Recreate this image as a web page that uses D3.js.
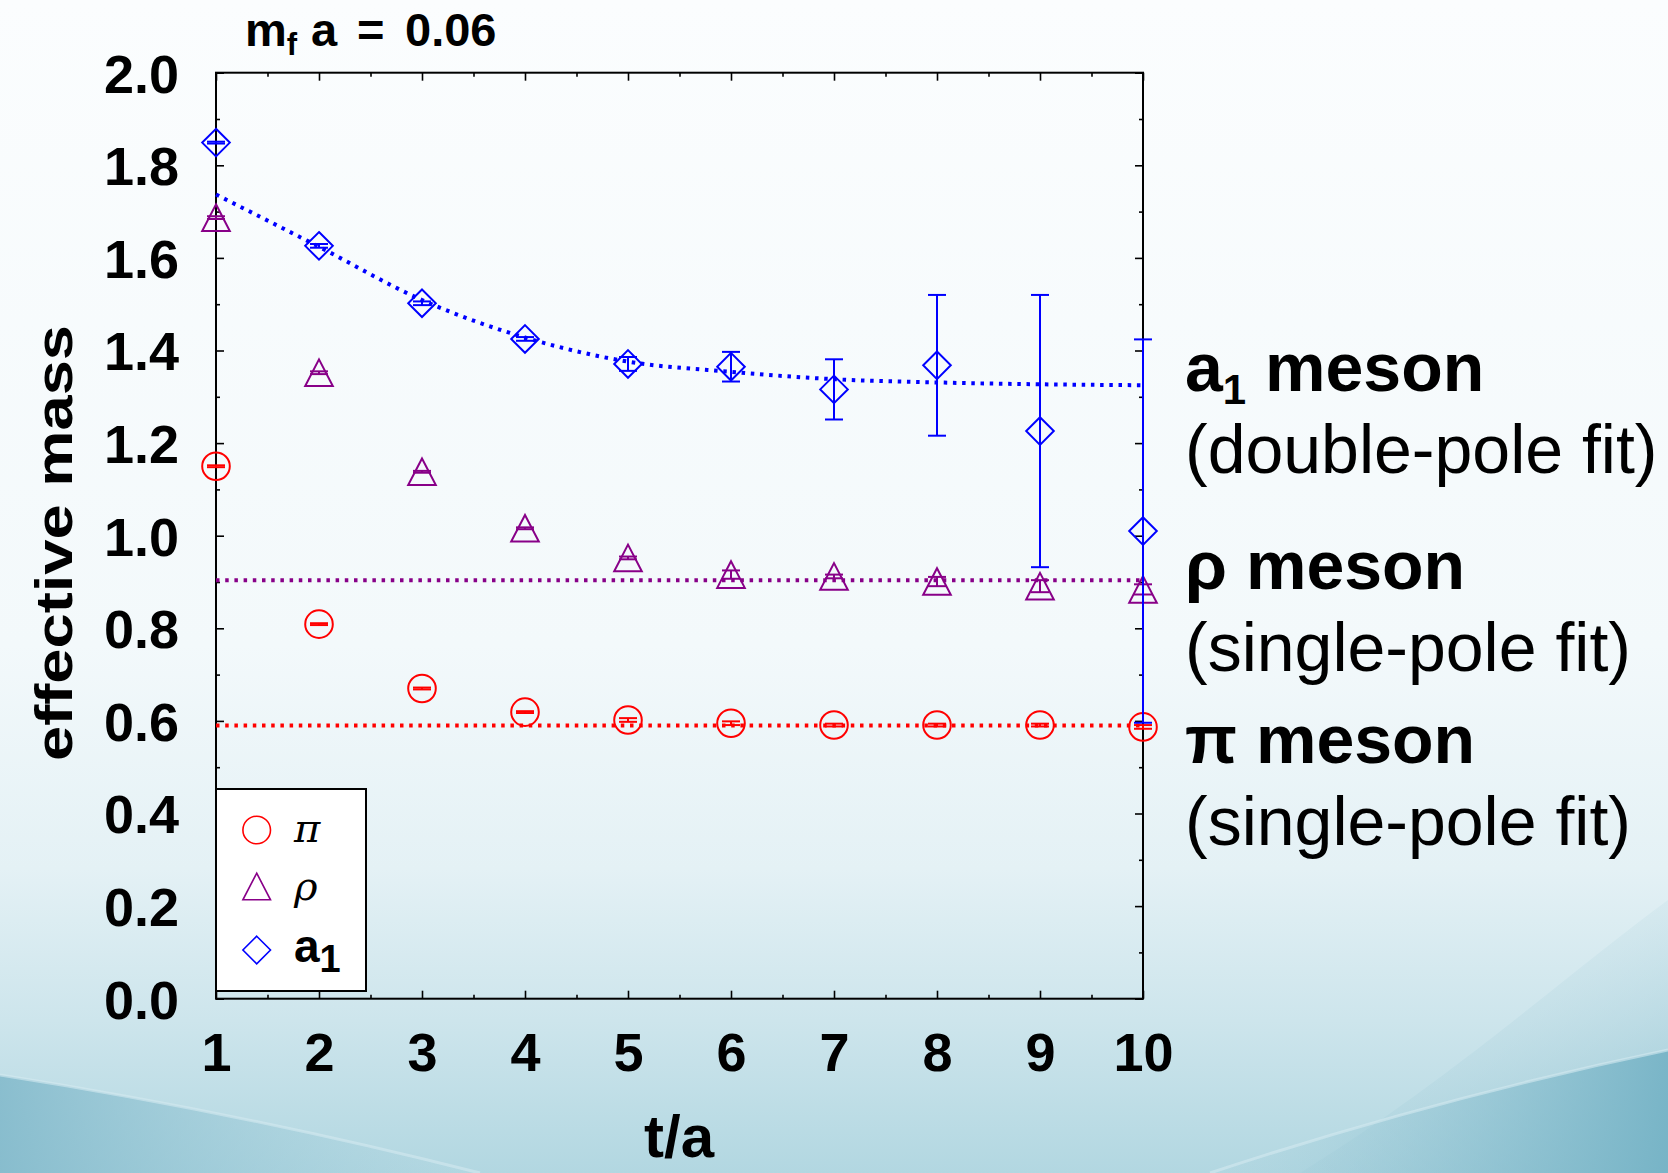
<!DOCTYPE html>
<html>
<head>
<meta charset="utf-8">
<script src="https://cdn.jsdelivr.net/npm/d3@7"></script>
<style>
  html, body { margin: 0; padding: 0; background: #f7fbfd; }
  svg { display: block; }
</style>
</head>
<body>
<div id="chart"></div>
<script>
// effective mass vs t/a, m_f a = 0.06
var tVals = [1, 2, 3, 4, 5, 6, 7, 8, 9, 10];

var piMass = [1.150, 0.809, 0.670, 0.619, 0.602, 0.595, 0.591, 0.591, 0.591, 0.587];
var piErr  = [0.002, 0.002, 0.002, 0.002, 0.004, 0.004, 0.003, 0.003, 0.003, 0.004];

var rhoMass = [1.687, 1.352, 1.138, 1.016, 0.952, 0.916, 0.912, 0.901, 0.891, 0.884];
var rhoErr  = [0.003, 0.003, 0.002, 0.002, 0.003, 0.009, 0.004, 0.010, 0.013, 0.011];

var a1Mass = [1.849, 1.626, 1.502, 1.425, 1.371, 1.365, 1.316, 1.368, 1.226, 1.010];
var a1Err  = [0.002, 0.004, 0.004, 0.004, 0.015, 0.032, 0.065, 0.152, 0.294, 0.414];

// fit results
var a1Fit = [1.737, 1.624, 1.509, 1.428, 1.376, 1.354, 1.338, 1.331, 1.327, 1.325];
var rhoFit = 0.904;
var piFit = 0.590;

var xTicks = [1, 2, 3, 4, 5, 6, 7, 8, 9, 10];
var xMinor = [1.5, 2.5, 3.5, 4.5, 5.5, 6.5, 7.5, 8.5, 9.5];
var yTicks = [0, 0.2, 0.4, 0.6, 0.8, 1.0, 1.2, 1.4, 1.6, 1.8, 2.0];
var yMinor = [0.1, 0.3, 0.5, 0.7, 0.9, 1.1, 1.3, 1.5, 1.7, 1.9];

var W = 1668, H = 1173;
var RED = "#ff0000", PURPLE = "#880088", BLUE = "#0000ff";

var svg = d3.select("#chart").append("svg")
  .attr("width", W)
  .attr("height", H);

// ---- background (slide style) ----
var defs = svg.append("defs");
var bg = defs.append("linearGradient").attr("id", "bg")
  .attr("x1", 0).attr("y1", 0).attr("x2", 0).attr("y2", 1);
[[0, "#fbfdfe"], [0.55, "#f3f9fb"], [0.74, "#e4f1f5"], [0.87, "#cde5ec"], [1, "#b2d7e1"]]
  .forEach(function(s) { bg.append("stop").attr("offset", s[0]).attr("stop-color", s[1]); });

var swL = defs.append("linearGradient").attr("id", "swL")
  .attr("x1", 0).attr("y1", 0).attr("x2", 1).attr("y2", 0);
swL.append("stop").attr("offset", 0).attr("stop-color", "#80b8ca").attr("stop-opacity", 0.85);
swL.append("stop").attr("offset", 1).attr("stop-color", "#9ccbd9").attr("stop-opacity", 0);

var swR = defs.append("linearGradient").attr("id", "swR")
  .attr("x1", 1).attr("y1", 0).attr("x2", 0).attr("y2", 0);
swR.append("stop").attr("offset", 0).attr("stop-color", "#74b2c5").attr("stop-opacity", 0.9);
swR.append("stop").attr("offset", 1).attr("stop-color", "#9ccbd9").attr("stop-opacity", 0);

var glowR = defs.append("linearGradient").attr("id", "glowR")
  .attr("x1", 1).attr("y1", 1).attr("x2", 0.3).attr("y2", 0);
glowR.append("stop").attr("offset", 0).attr("stop-color", "#7fb8c9").attr("stop-opacity", 0.6);
glowR.append("stop").attr("offset", 1).attr("stop-color", "#cfe6ed").attr("stop-opacity", 0);

svg.append("rect").attr("width", W).attr("height", H).attr("fill", "url(#bg)");
svg.append("path")
  .attr("d", "M1668,900 C1560,980 1450,1080 1300,1173 L1668,1173 Z")
  .attr("fill", "url(#glowR)");
svg.append("path")
  .attr("d", "M0,1075 C160,1100 330,1135 480,1173 L0,1173 Z")
  .attr("fill", "url(#swL)");
svg.append("path")
  .attr("d", "M1668,1050 C1500,1085 1340,1130 1210,1173 L1668,1173 Z")
  .attr("fill", "url(#swR)");
svg.append("path")
  .attr("d", "M0,1075 C160,1100 330,1135 480,1173")
  .attr("fill", "none").attr("stroke", "#d4eaf0").attr("stroke-opacity", 0.6).attr("stroke-width", 3);
svg.append("path")
  .attr("d", "M1668,1050 C1500,1085 1340,1130 1210,1173")
  .attr("fill", "none").attr("stroke", "#d4eaf0").attr("stroke-opacity", 0.6).attr("stroke-width", 3);

// ---- scales ----
var x = d3.scaleLinear().domain([1, 10]).range([216, 1143]);
var y = d3.scaleLinear().domain([0, 2]).range([998.7, 72.7]);

var tickFont = "'Liberation Sans', Arial, sans-serif";

// frame
svg.append("rect")
  .attr("x", x(1)).attr("y", y(2))
  .attr("width", x(10) - x(1)).attr("height", y(0) - y(2))
  .attr("fill", "none").attr("stroke", "#000").attr("stroke-width", 2);

function styleAxis(g) {
  g.select(".domain").remove();
  g.selectAll(".tick line").attr("stroke", "#000").attr("stroke-width", 1.6);
  g.selectAll(".tick text")
    .attr("fill", "#000")
    .style("font-family", tickFont)
    .style("font-weight", "bold")
    .style("font-size", "54px");
}

// bottom axis with labels
svg.append("g")
  .attr("transform", "translate(0," + y(0) + ")")
  .call(d3.axisBottom(x).tickValues(xTicks).tickFormat(d3.format("d"))
    .tickSizeInner(-8).tickSizeOuter(0).tickPadding(34))
  .call(styleAxis);
svg.append("g")
  .attr("transform", "translate(0," + y(0) + ")")
  .call(d3.axisBottom(x).tickValues(xMinor).tickFormat("").tickSizeInner(-4).tickSizeOuter(0))
  .call(styleAxis);
// top axis (ticks only)
svg.append("g")
  .attr("transform", "translate(0," + y(2) + ")")
  .call(d3.axisTop(x).tickValues(xTicks).tickFormat("").tickSizeInner(-8).tickSizeOuter(0))
  .call(styleAxis);
svg.append("g")
  .attr("transform", "translate(0," + y(2) + ")")
  .call(d3.axisTop(x).tickValues(xMinor).tickFormat("").tickSizeInner(-4).tickSizeOuter(0))
  .call(styleAxis);

// left axis with labels
svg.append("g")
  .attr("transform", "translate(" + x(1) + ",0)")
  .call(d3.axisLeft(y).tickValues(yTicks).tickFormat(d3.format(".1f"))
    .tickSizeInner(-8).tickSizeOuter(0).tickPadding(37))
  .call(styleAxis)
  .selectAll(".tick text").attr("dy", "0.36em");
svg.append("g")
  .attr("transform", "translate(" + x(1) + ",0)")
  .call(d3.axisLeft(y).tickValues(yMinor).tickFormat("").tickSizeInner(-4).tickSizeOuter(0))
  .call(styleAxis);
// right axis (ticks only)
svg.append("g")
  .attr("transform", "translate(" + x(10) + ",0)")
  .call(d3.axisRight(y).tickValues(yTicks).tickFormat("").tickSizeInner(-8).tickSizeOuter(0))
  .call(styleAxis);
svg.append("g")
  .attr("transform", "translate(" + x(10) + ",0)")
  .call(d3.axisRight(y).tickValues(yMinor).tickFormat("").tickSizeInner(-4).tickSizeOuter(0))
  .call(styleAxis);

// ---- fit lines (dotted) ----
var dots = "3.5 5.7";
svg.append("line")
  .attr("x1", x(1)).attr("x2", x(10))
  .attr("y1", y(rhoFit)).attr("y2", y(rhoFit))
  .attr("stroke", PURPLE).attr("stroke-width", 4).attr("stroke-dasharray", dots);
svg.append("line")
  .attr("x1", x(1)).attr("x2", x(10))
  .attr("y1", y(piFit)).attr("y2", y(piFit))
  .attr("stroke", RED).attr("stroke-width", 4).attr("stroke-dasharray", dots);

var fitLine = d3.line()
  .x(function(d, i) { return x(tVals[i]); })
  .y(function(d) { return y(d); })
  .curve(d3.curveMonotoneX);
svg.append("path")
  .attr("d", fitLine(a1Fit))
  .attr("fill", "none").attr("stroke", BLUE).attr("stroke-width", 4)
  .attr("stroke-dasharray", dots);

// ---- markers ----
var S = 13.8;
function shapePath(kind, s) {
  if (kind === "circle") {
    return "M" + s + ",0A" + s + "," + s + " 0 1,1 " + (-s) + ",0A" + s + "," + s + " 0 1,1 " + s + ",0Z";
  }
  if (kind === "triangle") {
    var h = s * 0.965;
    return "M0," + (-h) + "L" + s + "," + h + "L" + (-s) + "," + h + "Z";
  }
  return "M0," + (-s) + "L" + s + ",0L0," + s + "L" + (-s) + ",0Z";
}

function drawSeries(vals, errs, color, kind) {
  var g = svg.append("g");
  var cap = 9;
  vals.forEach(function(v, i) {
    var cx = x(tVals[i]);
    var hi = y(v + errs[i]), lo = y(v - errs[i]);
    g.append("line").attr("x1", cx).attr("x2", cx).attr("y1", hi).attr("y2", lo)
      .attr("stroke", color).attr("stroke-width", 2);
    g.append("line").attr("x1", cx - cap).attr("x2", cx + cap).attr("y1", hi).attr("y2", hi)
      .attr("stroke", color).attr("stroke-width", 2);
    g.append("line").attr("x1", cx - cap).attr("x2", cx + cap).attr("y1", lo).attr("y2", lo)
      .attr("stroke", color).attr("stroke-width", 2);
    g.append("path")
      .attr("d", shapePath(kind, S))
      .attr("transform", "translate(" + cx + "," + y(v) + ")")
      .attr("fill", "none").attr("stroke", color).attr("stroke-width", 2);
  });
}

drawSeries(rhoMass, rhoErr, PURPLE, "triangle");
drawSeries(piMass, piErr, RED, "circle");
drawSeries(a1Mass, a1Err, BLUE, "diamond");

// ---- legend ----
var legend = svg.append("g");
legend.append("rect")
  .attr("x", 216).attr("y", 789).attr("width", 150).attr("height", 202)
  .attr("fill", "#fff").attr("stroke", "#000").attr("stroke-width", 2);

var legItems = [
  {kind: "circle", color: RED, cy: 830},
  {kind: "triangle", color: PURPLE, cy: 886.5},
  {kind: "diamond", color: BLUE, cy: 950}
];
legItems.forEach(function(d) {
  legend.append("path")
    .attr("d", shapePath(d.kind, S))
    .attr("transform", "translate(256.7," + d.cy + ")")
    .attr("fill", "none").attr("stroke", d.color).attr("stroke-width", 1.6);
});
var serif = "'DejaVu Serif', 'Liberation Serif', serif";
legend.append("text").attr("x", 294).attr("y", 842)
  .style("font-family", serif).style("font-style", "italic").style("font-size", "40px")
  .text("π");
legend.append("text").attr("x", 294).attr("y", 900)
  .style("font-family", serif).style("font-style", "italic").style("font-size", "40px")
  .text("ρ");
var la = legend.append("text").attr("x", 294).attr("y", 962)
  .style("font-family", tickFont).style("font-weight", "bold").style("font-size", "46px");
la.append("tspan").text("a");
la.append("tspan").attr("dy", 10).style("font-size", "38px").text("1");

// ---- titles ----
var title = svg.append("text").attr("x", 245).attr("y", 46)
  .style("font-family", tickFont).style("font-weight", "bold").style("font-size", "47px");
title.append("tspan").text("m");
title.append("tspan").attr("dy", 9).style("font-size", "31px").text("f");
title.append("tspan").attr("x", 311).attr("dy", -9).text("a");
title.append("tspan").attr("x", 357).text("=");
title.append("tspan").attr("x", 405).text("0.06");

svg.append("text")
  .attr("transform", "translate(72,543) rotate(-90)")
  .attr("text-anchor", "middle")
  .attr("textLength", 436).attr("lengthAdjust", "spacingAndGlyphs")
  .style("font-family", tickFont).style("font-weight", "bold").style("font-size", "52px")
  .text("effective mass");

svg.append("text")
  .attr("x", 679).attr("y", 1157)
  .attr("text-anchor", "middle")
  .style("font-family", tickFont).style("font-weight", "bold").style("font-size", "60px")
  .text("t/a");

// ---- annotations on the right ----
var notes = [
  {main: "a", sub: "1", rest: " meson", fit: "(double-pole fit)", y: 391},
  {main: "ρ meson", sub: null, rest: "", fit: "(single-pole fit)", y: 589},
  {main: "π meson", sub: null, rest: "", fit: "(single-pole fit)", y: 763}
];
var noteFont = "'Liberation Sans', Arial, Helvetica, sans-serif";
notes.forEach(function(n) {
  var t = svg.append("text").attr("x", 1185).attr("y", n.y)
    .style("font-family", noteFont).style("font-weight", "bold").style("font-size", "68px");
  t.append("tspan").text(n.main);
  if (n.sub) {
    t.append("tspan").attr("dy", 13).style("font-size", "42px").text(n.sub);
    t.append("tspan").attr("dy", -13).text(n.rest);
  }
  svg.append("text").attr("x", 1185).attr("y", n.y + 82)
    .style("font-family", noteFont).style("font-size", "68px")
    .text(n.fit);
});
</script>
</body>
</html>
